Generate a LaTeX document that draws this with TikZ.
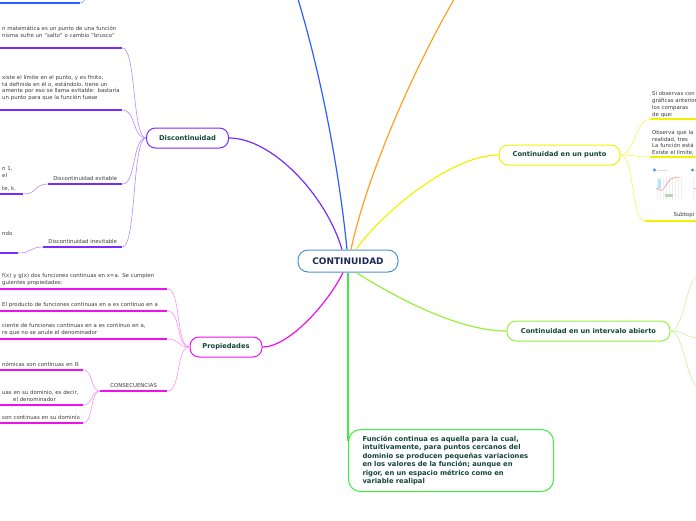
\documentclass[tikz,border=0pt]{standalone}
\usepackage{fontspec}
\setmainfont{DejaVu Sans}
\usetikzlibrary{calc}
\definecolor{rootline}{HTML}{4B93D8}
\definecolor{rootink}{HTML}{1A2B55}
\definecolor{topicink}{HTML}{15463B}
\definecolor{leafink}{HTML}{3C3C3C}
\definecolor{bluebr}{HTML}{2F5EFF}
\definecolor{orangebr}{HTML}{FFA024}
\definecolor{yellowbr}{HTML}{F2F200}
\definecolor{limebr}{HTML}{96F03C}
\definecolor{greenbr}{HTML}{40EC40}
\definecolor{magentabr}{HTML}{EE10EE}
\definecolor{purplebr}{HTML}{7A2BFF}

\tikzset{
  rootbox/.style={draw=rootline, line width=1pt, fill=white, rounded corners=10pt,
    minimum width=100pt, minimum height=22pt, inner sep=0pt,
    font=\fontsize{9}{11}\selectfont\bfseries, text=rootink},
  topicbox/.style={draw=#1, line width=1pt, fill=white, rounded corners=9pt,
    minimum height=20pt, inner sep=0pt,
    font=\fontsize{6.7}{8}\selectfont\bfseries, text=topicink},
  leafnote/.style={anchor=south west, inner xsep=2pt, inner ysep=3.5pt,
    text width=#1pt, align=left, font=\fontsize{5.4}{6.8}\selectfont, text=leafink},
  branch/.style={draw=#1, line width=1.2pt},
  twig/.style={draw=#1, line width=0.6pt},
  uline/.style={draw=#1, line width=1.3pt},
}

\begin{document}
\begin{tikzpicture}[x=1pt, y=-1pt]
  \useasboundingbox (0,0) rectangle (696,520);
  \clip (0,0) rectangle (696,520);

  \node[rootbox] (cont) at (348,261) {CONTINUIDAD};
  \node[topicbox=purplebr, minimum width=82pt] (disc) at (187.5,138) {Discontinuidad};
  \node[topicbox=magentabr, minimum width=72pt] (prop) at (226,347) {Propiedades};
  \node[topicbox=yellowbr, minimum width=121pt] (punto) at (559.5,155) {Continuidad en un punto};
  \node[topicbox=limebr, minimum width=163pt] (interv) at (588.5,331)
    {Continuidad en un intervalo abierto};
  \node[draw=greenbr, line width=1pt, fill=white, rounded corners=12pt, anchor=north west,
        text width=177pt, inner xsep=14pt, minimum height=62pt, align=left,
        font=\fontsize{6.8}{8.5}\selectfont\bfseries, text=topicink] (defi) at (348,429)
    {Función continua es aquella para la cual,\\
     intuitivamente, para puntos cercanos del\\
     dominio se producen pequeñas variaciones\\
     en los valores de la función; aunque en\\
     rigor, en un espacio métrico como en\\
     variable realipal};

  % ramas que salen del centro
  \coordinate (bluetop) at (292,-20);
  \coordinate (orangetop) at (462,-14);
  \draw[branch=purplebr] ([xshift=-6pt]cont.north) .. controls (326,195) and (272,138) .. (disc.east);
  \draw[branch=bluebr] ([xshift=-1pt]cont.north) .. controls (338,160) and (318,60) .. (bluetop);
  \draw[branch=orangebr] ([xshift=3pt]cont.north) .. controls (368,170) and (420,55) .. (orangetop);
  \draw[branch=yellowbr] ([xshift=8pt]cont.north) .. controls (380,215) and (450,155) .. (punto.west);
  \draw[branch=limebr] ([xshift=8pt]cont.south) .. controls (400,300) and (460,331) .. (interv.west);
  \draw[branch=greenbr] (cont.south) -- ([yshift=-12pt]defi.north west);
  \draw[branch=magentabr] ([xshift=-5pt]cont.south) .. controls (330,300) and (290,347) .. (prop.east);

  % rama azul (fuera del cuadro)
  \coordinate (blu0) at (0,3);
  \coordinate (blu1) at (80,3);
  \coordinate (bluetopic) at (92,-30);
  \draw[uline=bluebr] (blu0) -- (blu1);
  \draw[twig=bluebr!60] (blu1) .. controls (87,3) and (87,-10) .. (bluetopic);

  % Discontinuidad
  \node[leafnote=118, inner ysep=10pt] (dis1) at (0,48)
    {n matemática es un punto de una función\\nisma sufre un "salto" o cambio "brusco"};
  \node[leafnote=118, inner ysep=9pt] (dis2) at (0,110)
    {xiste el límite en el punto, y es finito,\\tá definida en él o, estándolo, tiene un\\
     amente por eso se llama evitable: bastaría\\un punto para que la función fuese};
  \node[leafnote=70, align=center] (dis3) at (48,184) {Discontinuidad evitable};
  \node[leafnote=75, align=center] (dis4) at (43,247) {Discontinuidad inevitable};
  \node[leafnote=19, inner ysep=2.5pt] (dis3a) at (0,194) {n 1,\\el\\[6.8pt]te, k.};
  \node[leafnote=14, inner ysep=17pt] (dis4a) at (0,253) {ndo};
  \foreach \leaf in {dis1,dis2,dis3,dis4} {
    \draw[uline=purplebr] (\leaf.south west) -- (\leaf.south east);
    \draw[twig=purplebr!55] (\leaf.south east) .. controls +(14,0) and +(-14,0) .. (disc.west);
  }
  \draw[uline=purplebr] (dis3a.south west) -- (dis3a.south east);
  \draw[twig=purplebr!55] (dis3a.south east) .. controls +(14,0) and +(-14,0) .. (dis3.south west);
  \draw[uline=purplebr] (dis4a.south west) -- (dis4a.south east);
  \draw[twig=purplebr!55] (dis4a.south east) .. controls +(14,0) and +(-14,0) .. (dis4.south west);

  % Propiedades
  \node[leafnote=163, inner ysep=3pt] (pro1) at (0,289)
    {f(x) y g(x) dos funciones continuas en x=a. Se cumplen\\guientes propiedades:};
  \node[leafnote=163] (pro2) at (0,311) {El producto de funciones continuas en a es continuo en a};
  \node[leafnote=163] (pro3) at (0,339)
    {ciente de funciones continuas en a es continuo en a,\\re que no se anule el denominador};
  \node[leafnote=63, align=center] (pro4) at (100,391) {CONSECUENCIAS};
  \node[leafnote=79] (con1) at (0,370) {nómicas son continuas en ℝ};
  \node[leafnote=79] (con2) at (0,405) {uas en su dominio, es decir,\\\hspace*{11pt}el denominador};
  \node[leafnote=79] (con3) at (0,423) {son continuas en su dominio};
  \foreach \leaf in {pro1,pro2,pro3,pro4} {
    \draw[uline=magentabr] (\leaf.south west) -- (\leaf.south east);
    \draw[twig=magentabr!45] (\leaf.south east) .. controls +(14,0) and +(-14,0) .. (prop.west);
  }
  \foreach \leaf in {con1,con2,con3} {
    \draw[uline=magentabr] (\leaf.south west) -- (\leaf.south east);
    \draw[twig=magentabr!45] (\leaf.south east) .. controls +(10,0) and +(-10,0) .. (pro4.south west);
  }

  % Continuidad en un punto
  \node[leafnote=60, inner ysep=1.5pt] (pun1) at (650,119)
    {Si observas con\\gráficas anterior\\los comparas\\de que:};
  \node[leafnote=60, inner ysep=1.5pt] (pun2) at (650,157)
    {Observa que la\\realidad, tres\\La función está\\Existe el límite,};
  \node[leafnote=47, align=right] (pun3) at (645,221) {Subtopi};
  \foreach \leaf in {pun1,pun2,pun3} {
    \draw[uline=yellowbr] (\leaf.south west) -- (\leaf.south east);
    \draw[twig=yellowbr!70] (punto.east) .. controls +(14,0) and +(-14,0) .. (\leaf.south west);
  }
  % miniaturas
  \foreach \tx in {652,690} {
    \fill[rootline] (\tx+2.5,170) circle (1.6pt);
    \draw[gray!30, line width=1pt] (\tx+5,170) -- (\tx+15,170);
    \draw[gray!12, line width=0.15pt] (\tx+3,177) grid[step=3] (\tx+30,200);
    \fill[cyan!30] (\tx+6,179) rectangle (\tx+9,189);
    \fill[green!50!black!30] (\tx+13,194) rectangle (\tx+21,197);
    \draw[red!50, line width=0.5pt] (\tx+4,188) .. controls (\tx+9,192) and (\tx+11,191) .. (\tx+14,185)
      .. controls (\tx+17,179) and (\tx+21,177) .. (\tx+28,177);
  }

  % Continuidad en un intervalo abierto
  \coordinate (int1) at (700,275);
  \coordinate (int2) at (700,338);
  \coordinate (int3) at (700,387);
  \foreach \leaf in {int1,int2,int3}
    \draw[twig=limebr!55] (interv.east) .. controls +(14,0) and +(-14,0) .. (\leaf);
\end{tikzpicture}
\end{document}
